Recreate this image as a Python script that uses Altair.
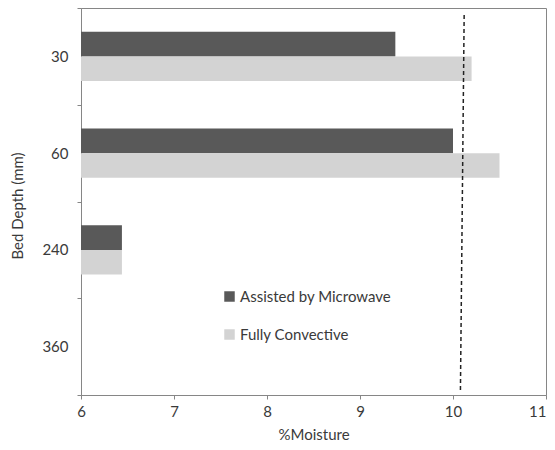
import altair as alt
import pandas as pd

depths = ["30", "60", "240", "360"]
data_depths = ["30", "60", "240"]
series_names = ["Assisted by Microwave", "Fully Convective"]
microwave = [9.38, 10.00, 6.44]
convective = [10.20, 10.50, 6.44]
x_ticks = [6, 7, 8, 9, 10, 11]
ref_line_x = [10.12, 10.08]

rows = []
for d, m, c in zip(data_depths, microwave, convective):
    rows.append({"depth": d, "series": series_names[0], "value": m})
    rows.append({"depth": d, "series": series_names[1], "value": c})
df = pd.DataFrame(rows)
ref_df = pd.DataFrame({"x1": [ref_line_x[0]], "x2": [ref_line_x[1]]})

FONT = "Lato"
TXT = "#3a3a3a"
GRAY = "#868686"

W, H = 465, 387

bars = alt.Chart(df).mark_bar().encode(
    y=alt.Y("depth:N", sort=depths,
            scale=alt.Scale(domain=depths, paddingInner=0, paddingOuter=0),
            axis=alt.Axis(title="Bed Depth (mm)", tickBand="extent", labelPadding=9,
                          titleX=-56, titleY=H / 2 + 4, titleAngle=-90,
                          labelFontSize=15, titleFontSize=15)),
    yOffset=alt.YOffset("series:N", sort=series_names,
                        scale=alt.Scale(domain=series_names, paddingInner=0, paddingOuter=0.9625)),
    x=alt.X("value:Q", scale=alt.Scale(domain=[6, 11], nice=False, zero=False),
            axis=alt.Axis(title="%Moisture", values=x_ticks, format="d", grid=False,
                          labelPadding=5, titleY=32, labelFontSize=15, titleFontSize=15,
                          labelAlign=alt.condition("datum.value == 11",
                                                   alt.value("right"), alt.value("center")))),
    x2=alt.datum(6),
    color=alt.Color("series:N", sort=series_names,
                    scale=alt.Scale(domain=series_names, range=["#595959", "#d3d3d3"]),
                    legend=alt.Legend(title=None, orient="none", legendX=141, legendY=281,
                                      symbolType="square", symbolSize=110, symbolStrokeWidth=0,
                                      labelFontSize=15, rowPadding=22, padding=0,
                                      labelOffset=3)),
)

rule = alt.Chart(ref_df).mark_rule(color="#222222", strokeDash=[4, 3], strokeWidth=1.5).encode(
    x="x1:Q",
    x2="x2:Q",
    y=alt.value(7),
    y2=alt.value(382),
)

chart = alt.layer(bars, rule).properties(
    width=W, height=H,
    autosize=alt.AutoSizeParams(type="none"),
    padding={"left": 73, "top": 0, "right": 1, "bottom": 47},
).configure(
    font=FONT,
).configure_view(
    stroke=GRAY, strokeWidth=1,
).configure_axis(
    domainColor=GRAY, tickColor=GRAY, tickSize=4, labelColor=TXT, titleColor=TXT,
    labelFont=FONT, titleFont=FONT, titleFontWeight="normal",
).configure_legend(
    labelColor=TXT, labelFont=FONT,
)

chart.save("out.html", embed_options={"renderer": "svg", "actions": False})
